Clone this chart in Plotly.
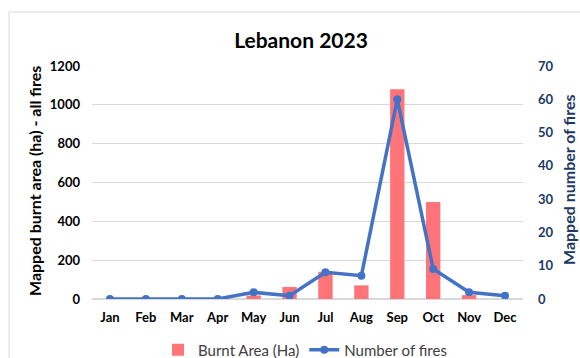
import plotly.graph_objects as go

months = ["Jan", "Feb", "Mar", "Apr", "May", "Jun", "Jul", "Aug", "Sep", "Oct", "Nov", "Dec"]
burnt_area = [0, 0, 0, 0, 18, 62, 140, 70, 1080, 500, 20, 0]
num_fires = [0, 0, 0, 0, 2, 1, 8, 7, 60, 9, 2, 1]
left_ticks = [0, 200, 400, 600, 800, 1000, 1200]
right_ticks = [0, 10, 20, 30, 40, 50, 60, 70]

FONT = "Lato"
BAR_C = "#FF7478"
LINE_C = "#4472C4"
NAVY = "#203864"

W, H = 580, 358
PL, PR, PT, PB = 92, 523, 66, 299  # plot area in screen pixels
L, T, R, B = PL, PT, W - PR, H - PB
PW = PR - PL
PH = PB - PT


def px_x(x):
    return (x - PL) / PW


def px_y(y):
    return (PB - y) / PH


fig = go.Figure()
fig.add_trace(go.Bar(
    x=months, y=burnt_area, name="Burnt Area (Ha)",
    marker=dict(color=BAR_C, line=dict(width=0)), yaxis="y",
))
fig.add_trace(go.Scatter(
    x=months, y=num_fires, name="Number of fires", mode="lines+markers",
    line=dict(color=LINE_C, width=3.5), marker=dict(size=8, color=LINE_C),
    yaxis="y2",
))

fig.update_layout(
    width=W, height=H,
    margin=dict(l=L, r=R, t=T, b=B, autoexpand=False),
    paper_bgcolor="white", plot_bgcolor="white",
    bargap=0.6,
    showlegend=True,
    title=dict(text="<b>Lebanon 2023</b>", x=px_x(301), xref="paper", xanchor="center",
               y=1 - 41 / H, yanchor="middle",
               font=dict(family=FONT, size=21, color="#000000")),
    font=dict(family=FONT, color="#000000"),
    xaxis=dict(
        range=[-0.5, len(months) - 0.5],
        tickfont=dict(family=FONT, size=13, color="#000000", weight="bold"),
        showgrid=False, showline=False, zeroline=False, ticks="", ticklabelstandoff=9,
        automargin=False,
    ),
    yaxis=dict(
        range=[0, 1200], tickvals=left_ticks,
        tickfont=dict(family=FONT, size=13, color="#000000", weight="bold"),
        showgrid=True, gridcolor="#D9D9D9", gridwidth=1,
        zeroline=True, zerolinecolor="#D9D9D9", showline=False, ticks="",
        ticklabelstandoff=11, automargin=False,
    ),
    yaxis2=dict(
        range=[0, 70], tickvals=right_ticks, overlaying="y", side="right",
        tickfont=dict(family=FONT, size=13, color=NAVY, weight="bold"),
        showgrid=False, zeroline=False, showline=False, ticks="",
        ticklabelstandoff=14, automargin=False,
    ),
    legend=dict(
        orientation="h", x=px_x(305), xanchor="center", y=px_y(350), yanchor="middle",
        font=dict(family=FONT, size=15, color="#404040"),
        itemwidth=30, traceorder="normal", bgcolor="rgba(0,0,0,0)",
    ),
    annotations=[
        dict(text="<b>Mapped burnt area (ha) - all fires</b>", xref="paper", yref="paper",
             x=px_x(34), y=px_y(181), xanchor="center", yanchor="middle", textangle=-90,
             showarrow=False, font=dict(family=FONT, size=16, color="#000000")),
        dict(text="<b>Mapped number of fires</b>", xref="paper", yref="paper",
             x=px_x(568), y=px_y(180), xanchor="center", yanchor="middle", textangle=-90,
             showarrow=False, font=dict(family=FONT, size=16, color=NAVY)),
    ],
    shapes=[dict(type="rect", xref="paper", yref="paper",
                 x0=px_x(9), x1=px_x(620),
                 y0=px_y(400), y1=px_y(12),
                 line=dict(color="#D9D9D9", width=1), fillcolor="rgba(0,0,0,0)", layer="below")],
)

fig.write_html(
    "out.html",
    config={"displayModeBar": False},
    post_script="document.body.style.margin='0';document.body.style.overflow='hidden';",
)
